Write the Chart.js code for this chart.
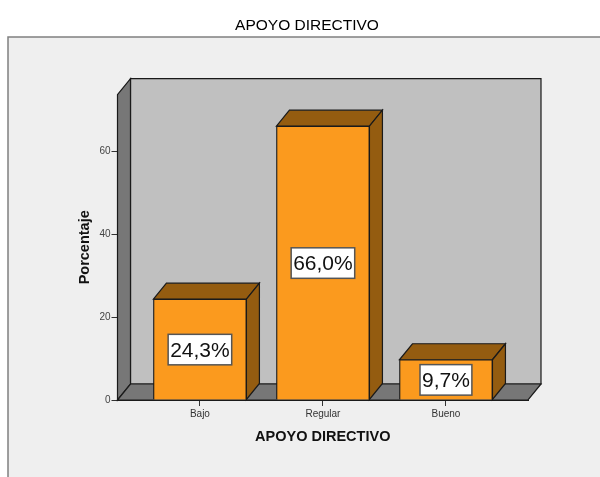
<!DOCTYPE html>
<html>
<head>
<meta charset="utf-8">
<style>
  body { margin: 0; background: #fff; }
  canvas { display: block; }
</style>
</head>
<body>
<canvas id="my-chart" width="600" height="477"></canvas>
<script src="https://cdn.jsdelivr.net/npm/chart.js@4/dist/chart.umd.min.js"></script>
<script>
const categories = ["Bajo", "Regular", "Bueno"];
const percentages = [24.3, 66.0, 9.7];
const yTicks = [0, 20, 40, 60];

const chartTitle = "APOYO DIRECTIVO";
const xTitle = "APOYO DIRECTIVO";
const yTitle = "Porcentaje";

// profondeur de l'effet 3D
const depthX = 13;
const depthY = 16;
const barFront = "#fb9a1e";
const barDark = "#945c10";
const edge = "#1a1a1a";

function poly(ctx, points, fill) {
  ctx.beginPath();
  points.forEach((p, i) => (i ? ctx.lineTo(p[0], p[1]) : ctx.moveTo(p[0], p[1])));
  ctx.closePath();
  ctx.fillStyle = fill;
  ctx.fill();
  ctx.stroke();
}

const box3d = {
  id: "box3d",
  afterLayout(chart) {
    // le titre est centre sur le panneau gris, pas sur le canvas
    chart.titleBlock.left = 14;
    chart.titleBlock.right = 600;
  },
  beforeDraw(chart) {
    const ctx = chart.ctx;
    ctx.save();
    ctx.fillStyle = "#efefef";
    ctx.strokeStyle = "#808080";
    ctx.lineWidth = 1.5;
    ctx.fillRect(8, 37, 592, 440);
    ctx.strokeRect(8, 37, 600, 460);
    ctx.restore();
  },
  beforeDatasetsDraw(chart) {
    const ctx = chart.ctx;
    const { left, right, top, bottom } = chart.chartArea;
    ctx.save();
    ctx.lineWidth = 1.2;
    ctx.strokeStyle = edge;
    // parois du fond
    poly(ctx, [[left + depthX, top - depthY], [right + depthX, top - depthY], [right + depthX, bottom - depthY], [left + depthX, bottom - depthY]], "#c0c0c0");
    poly(ctx, [[left, top], [left + depthX, top - depthY], [left + depthX, bottom - depthY], [left, bottom]], "#777777");
    poly(ctx, [[left, bottom], [left + depthX, bottom - depthY], [right + depthX, bottom - depthY], [right, bottom]], "#777777");
    // faces du dessus et de cote
    chart.getDatasetMeta(0).data.forEach((bar) => {
      const x0 = bar.x - bar.width / 2;
      const x1 = bar.x + bar.width / 2;
      poly(ctx, [[x0, bar.y], [x0 + depthX, bar.y - depthY], [x1 + depthX, bar.y - depthY], [x1, bar.y]], barDark);
      poly(ctx, [[x1, bar.y], [x1 + depthX, bar.y - depthY], [x1 + depthX, bar.base - depthY], [x1, bar.base]], barDark);
    });
    ctx.restore();
  },
  afterDatasetsDraw(chart) {
    const ctx = chart.ctx;
    ctx.save();
    ctx.font = "21px 'Liberation Sans', Arial, sans-serif";
    ctx.textAlign = "center";
    ctx.textBaseline = "middle";
    chart.getDatasetMeta(0).data.forEach((bar, i) => {
      const text = percentages[i].toFixed(1).replace(".", ",") + "%";
      const w = ctx.measureText(text).width + 4;
      const cy = (bar.y + bar.base) / 2;
      ctx.fillStyle = "#ffffff";
      ctx.strokeStyle = "#555555";
      ctx.lineWidth = 1.5;
      ctx.fillRect(bar.x - w / 2, cy - 15, w, 30.5);
      ctx.strokeRect(bar.x - w / 2, cy - 15, w, 30.5);
      ctx.fillStyle = "#111111";
      ctx.fillText(text, bar.x, cy + 1.5);
    });
    ctx.restore();
  },
};

const ctx = document.getElementById("my-chart").getContext("2d");
const chart = new Chart(ctx, {
  type: "bar",
  data: {
    datasets: [
      {
        label: yTitle,
        data: categories.map((c, i) => ({ x: i, y: percentages[i] })),
        backgroundColor: barFront,
        borderColor: edge,
        borderWidth: 1.2,
        barThickness: 93,
      },
    ],
  },
  options: {
    responsive: false,
    animation: false,
    layout: { padding: { right: 72 } },
    plugins: {
      legend: { display: false },
      tooltip: { enabled: false },
      title: {
        display: true,
        text: chartTitle,
        color: "#000000",
        font: { family: "'Liberation Sans', Arial, sans-serif", size: 15.5, weight: "normal" },
        padding: { top: 16, bottom: 60 },
      },
    },
    scales: {
      x: {
        type: "linear",
        offset: false,
        min: -0.67,
        max: 2.667,
        afterBuildTicks: (axis) => {
          axis.ticks = categories.map((c, i) => ({ value: i }));
        },
        afterFit: (axis) => {
          axis.height = 77;
        },
        grid: { offset: false, drawOnChartArea: false, tickLength: 6, tickColor: "#333333" },
        border: { color: edge },
        ticks: {
          maxRotation: 0,
          padding: 2,
          color: "#333333",
          font: { family: "'Liberation Sans', Arial, sans-serif", size: 10 },
          callback: (v) => categories[v],
        },
        title: {
          display: true,
          text: xTitle,
          color: "#111111",
          font: { family: "'Liberation Sans', Arial, sans-serif", size: 14.5, weight: "bold" },
          padding: { top: 10, bottom: 31 },
        },
      },
      y: {
        min: 0,
        max: 73.6,
        afterBuildTicks: (axis) => {
          axis.ticks = yTicks.map((v) => ({ value: v }));
        },
        afterFit: (axis) => {
          axis.width = 117.5;
        },
        grid: { drawOnChartArea: false, tickLength: 6, tickColor: "#333333" },
        border: { color: edge },
        ticks: {
          padding: 1,
          color: "#444444",
          font: { family: "'Liberation Sans', Arial, sans-serif", size: 10 },
        },
        title: {
          display: true,
          text: yTitle,
          color: "#111111",
          font: { family: "'Liberation Sans', Arial, sans-serif", size: 14.5, weight: "bold" },
          padding: { top: 76, bottom: 0 },
        },
      },
    },
  },
  plugins: [box3d],
});
</script>
</body>
</html>
